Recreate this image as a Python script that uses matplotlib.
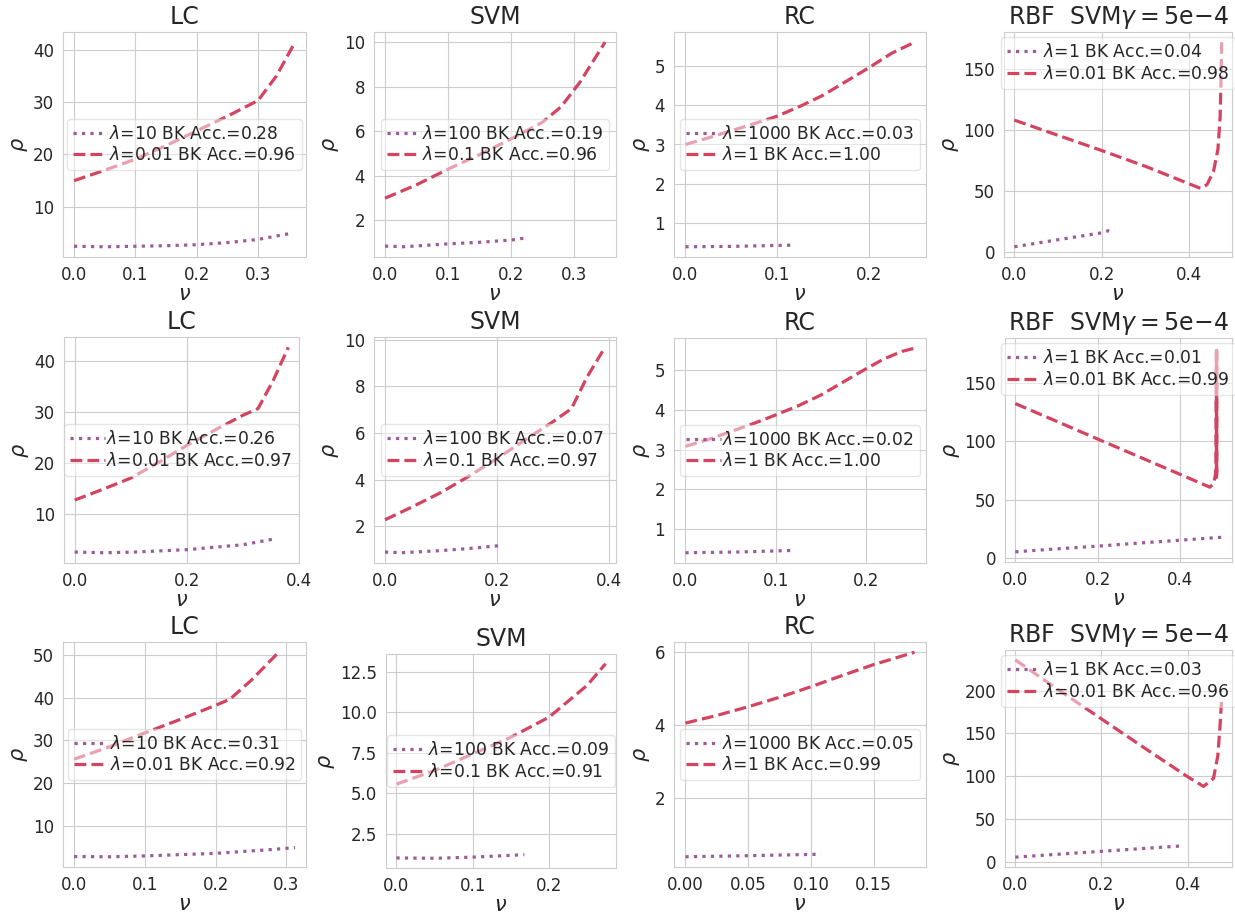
import matplotlib
matplotlib.use("Agg")
import matplotlib.pyplot as plt
import seaborn as sns
from matplotlib.ticker import MultipleLocator

sns.set_style("whitegrid")
plt.rcParams["font.family"] = ["DejaVu Sans"]

# ---- data: nu (x) and rho (y) for the large-lambda and small-lambda runs ----
# row 1
lc1_hi_nu = [0, 0.05, 0.1, 0.15, 0.2, 0.25, 0.3, 0.355]
lc1_hi_rho = [2.5, 2.4, 2.5, 2.6, 2.8, 3.2, 3.8, 5.0]
lc1_lo_nu = [0, 0.05, 0.1, 0.15, 0.2, 0.25, 0.3, 0.33, 0.36]
lc1_lo_rho = [15.0, 17.0, 19.1, 21.7, 24.5, 27.3, 30.3, 35.0, 41.4]

svm1_hi_nu = [0, 0.03, 0.1, 0.15, 0.2, 0.222]
svm1_hi_rho = [0.85, 0.82, 0.95, 1.02, 1.12, 1.21]
svm1_lo_nu = [0, 0.05, 0.1, 0.15, 0.2, 0.25, 0.28, 0.31, 0.35]
svm1_lo_rho = [3.0, 3.6, 4.3, 4.95, 5.65, 6.4, 7.1, 8.2, 10.0]

rc1_hi_nu = [0, 0.05, 0.115]
rc1_hi_rho = [0.40, 0.41, 0.44]
rc1_lo_nu = [0, 0.025, 0.05, 0.075, 0.1, 0.125, 0.15, 0.175, 0.2, 0.225, 0.25]
rc1_lo_rho = [3.0, 3.17, 3.35, 3.53, 3.72, 3.97, 4.25, 4.6, 4.95, 5.32, 5.6]

rbf1_hi_nu = [0, 0.1, 0.2, 0.215, 0.228]
rbf1_hi_rho = [4.0, 9.8, 15.5, 17.2, 16.0]
rbf1_lo_nu = [0, 0.1, 0.2, 0.3, 0.425, 0.44, 0.455, 0.465, 0.47, 0.472, 0.4735]
rbf1_lo_rho = [108, 95.5, 83, 70, 52, 55, 66, 84, 110, 140, 172]

# row 2
lc2_hi_nu = [0, 0.05, 0.1, 0.2, 0.3, 0.354]
lc2_hi_rho = [2.53, 2.4, 2.5, 3.0, 3.96, 5.06]
lc2_lo_nu = [0, 0.05, 0.1, 0.15, 0.2, 0.25, 0.3, 0.327, 0.354, 0.381]
lc2_lo_rho = [12.7, 14.8, 17.0, 20.1, 23.4, 26.4, 29.3, 30.6, 36.1, 42.6]

svm2_hi_nu = [0, 0.03, 0.1, 0.15, 0.207]
svm2_hi_rho = [0.9, 0.87, 0.96, 1.05, 1.18]
svm2_lo_nu = [0, 0.05, 0.1, 0.15, 0.2, 0.25, 0.3, 0.333, 0.361, 0.393]
svm2_lo_rho = [2.28, 2.85, 3.45, 4.15, 4.9, 5.7, 6.48, 7.04, 8.4, 9.67]

rc2_hi_nu = [0, 0.06, 0.121]
rc2_hi_rho = [0.4, 0.42, 0.46]
rc2_lo_nu = [0, 0.025, 0.05, 0.075, 0.1, 0.125, 0.15, 0.175, 0.2, 0.22, 0.24, 0.254]
rc2_lo_rho = [3.08, 3.25, 3.45, 3.65, 3.87, 4.1, 4.37, 4.7, 5.03, 5.28, 5.47, 5.55]

rbf2_hi_nu = [0, 0.1, 0.2, 0.3, 0.4, 0.5]
rbf2_hi_rho = [5.1, 7.6, 10.0, 12.6, 15.1, 17.6]
rbf2_lo_nu = [0, 0.1, 0.2, 0.3, 0.4, 0.4715, 0.481, 0.4865, 0.4875, 0.4875, 0.4875,
              0.4875, 0.4875, 0.4875]
rbf2_lo_rho = [132.4, 117.2, 101.9, 86.7, 71.5, 60.6, 64, 75, 180, 72, 178, 70, 176, 68]

# row 3
lc3_hi_nu = [0, 0.05, 0.1, 0.2, 0.28, 0.312]
lc3_hi_rho = [2.85, 2.8, 3.0, 3.6, 4.5, 4.95]
lc3_lo_nu = [0, 0.05, 0.1, 0.15, 0.2, 0.22, 0.25, 0.289]
lc3_lo_rho = [25.6, 28.5, 31.75, 34.9, 38.2, 39.6, 44.0, 50.6]

svm3_hi_nu = [0, 0.05, 0.1, 0.1676]
svm3_hi_rho = [1.0, 0.98, 1.05, 1.2]
svm3_lo_nu = [0, 0.05, 0.1, 0.15, 0.2, 0.25, 0.274]
svm3_lo_rho = [5.56, 6.4, 7.43, 8.46, 9.7, 11.67, 13.0]

rc3_hi_nu = [0, 0.05, 0.108]
rc3_hi_rho = [0.37, 0.4, 0.44]
rc3_lo_nu = [0, 0.025, 0.05, 0.075, 0.1, 0.125, 0.15, 0.1826]
rc3_lo_rho = [4.05, 4.26, 4.5, 4.76, 5.05, 5.36, 5.66, 6.0]

rbf3_hi_nu = [0, 0.1, 0.2, 0.3, 0.38, 0.391]
rbf3_hi_rho = [5.6, 9.0, 12.4, 15.8, 18.5, 20.3]
rbf3_lo_nu = [0, 0.1, 0.2, 0.3, 0.4, 0.4368, 0.46, 0.47, 0.475, 0.479]
rbf3_lo_rho = [236, 201, 167, 133, 99.5, 88.2, 97.6, 124, 157.6, 191.4]

# ---- labels ----
model_titles = ["LC", "SVM", "RC", r"RBF  SVM$\gamma=5\mathrm{e}{-4}$"]
lambda_hi = ["10", "100", "1000", "1"]
lambda_lo = ["0.01", "0.1", "1", "0.01"]
acc_hi = [["0.28", "0.19", "0.03", "0.04"],
          ["0.26", "0.07", "0.02", "0.01"],
          ["0.31", "0.09", "0.05", "0.03"]]
acc_lo = [["0.96", "0.96", "1.00", "0.98"],
          ["0.97", "0.97", "1.00", "0.99"],
          ["0.92", "0.91", "0.99", "0.96"]]

curves = [
    [(lc1_hi_nu, lc1_hi_rho, lc1_lo_nu, lc1_lo_rho),
     (svm1_hi_nu, svm1_hi_rho, svm1_lo_nu, svm1_lo_rho),
     (rc1_hi_nu, rc1_hi_rho, rc1_lo_nu, rc1_lo_rho),
     (rbf1_hi_nu, rbf1_hi_rho, rbf1_lo_nu, rbf1_lo_rho)],
    [(lc2_hi_nu, lc2_hi_rho, lc2_lo_nu, lc2_lo_rho),
     (svm2_hi_nu, svm2_hi_rho, svm2_lo_nu, svm2_lo_rho),
     (rc2_hi_nu, rc2_hi_rho, rc2_lo_nu, rc2_lo_rho),
     (rbf2_hi_nu, rbf2_hi_rho, rbf2_lo_nu, rbf2_lo_rho)],
    [(lc3_hi_nu, lc3_hi_rho, lc3_lo_nu, lc3_lo_rho),
     (svm3_hi_nu, svm3_hi_rho, svm3_lo_nu, svm3_lo_rho),
     (rc3_hi_nu, rc3_hi_rho, rc3_lo_nu, rc3_lo_rho),
     (rbf3_hi_nu, rbf3_hi_rho, rbf3_lo_nu, rbf3_lo_rho)],
]

# ---- layout (pixel boxes: left, top, right, bottom) ----
W, H = 1235, 917
boxes = [
    [(63, 32, 306, 257), (374, 32, 616, 257), (674, 32, 926, 257), (1004, 32, 1232, 257)],
    [(64, 337, 299, 563), (374, 337, 616, 563), (674, 338, 926, 563), (1005, 338, 1232, 562)],
    [(63, 642, 306, 867), (386, 654, 616, 868), (674, 642, 926, 867), (1005, 650, 1232, 867)],
]
x_steps = [[0.1, 0.1, 0.1, 0.2], [0.2, 0.2, 0.1, 0.2], [0.1, 0.1, 0.05, 0.2]]
y_steps = [[10, 2, 1, 50], [10, 2, 1, 50], [10, 2.5, 2, 50]]

c_hi = "#9b5b9b"
c_lo = "#d4435f"
lw = 2.3

fig = plt.figure(figsize=(W / 100, H / 100), dpi=100)
for r in range(3):
    for c in range(4):
        l, t, rr, b = boxes[r][c]
        ax = fig.add_axes([l / W, 1 - b / H, (rr - l) / W, (b - t) / H])
        hx, hy, lx, ly = curves[r][c]
        ax.plot(hx, hy, linestyle=":", color=c_hi, lw=lw,
                label=rf"$\lambda$={lambda_hi[c]} BK Acc.={acc_hi[r][c]}")
        ax.plot(lx, ly, linestyle="--", color=c_lo, lw=lw,
                label=rf"$\lambda$={lambda_lo[c]} BK Acc.={acc_lo[r][c]}")
        ax.set_title(model_titles[c], fontsize=17, color=".15")
        ax.set_xlabel(r"$\nu$", fontsize=15, labelpad=0)
        ax.set_ylabel(r"$\rho$", fontsize=15, labelpad=2)
        ax.xaxis.set_major_locator(MultipleLocator(x_steps[r][c]))
        ax.yaxis.set_major_locator(MultipleLocator(y_steps[r][c]))
        ax.tick_params(labelsize=12, pad=3)
        loc = "upper center" if c == 3 else "center"
        ax.legend(loc=loc, fontsize=12.3, framealpha=0.5, borderpad=0.35,
                  labelspacing=0.2, handletextpad=0.1, borderaxespad=0.3,
                  handlelength=2.0)

fig.savefig("out.png", dpi=100)
